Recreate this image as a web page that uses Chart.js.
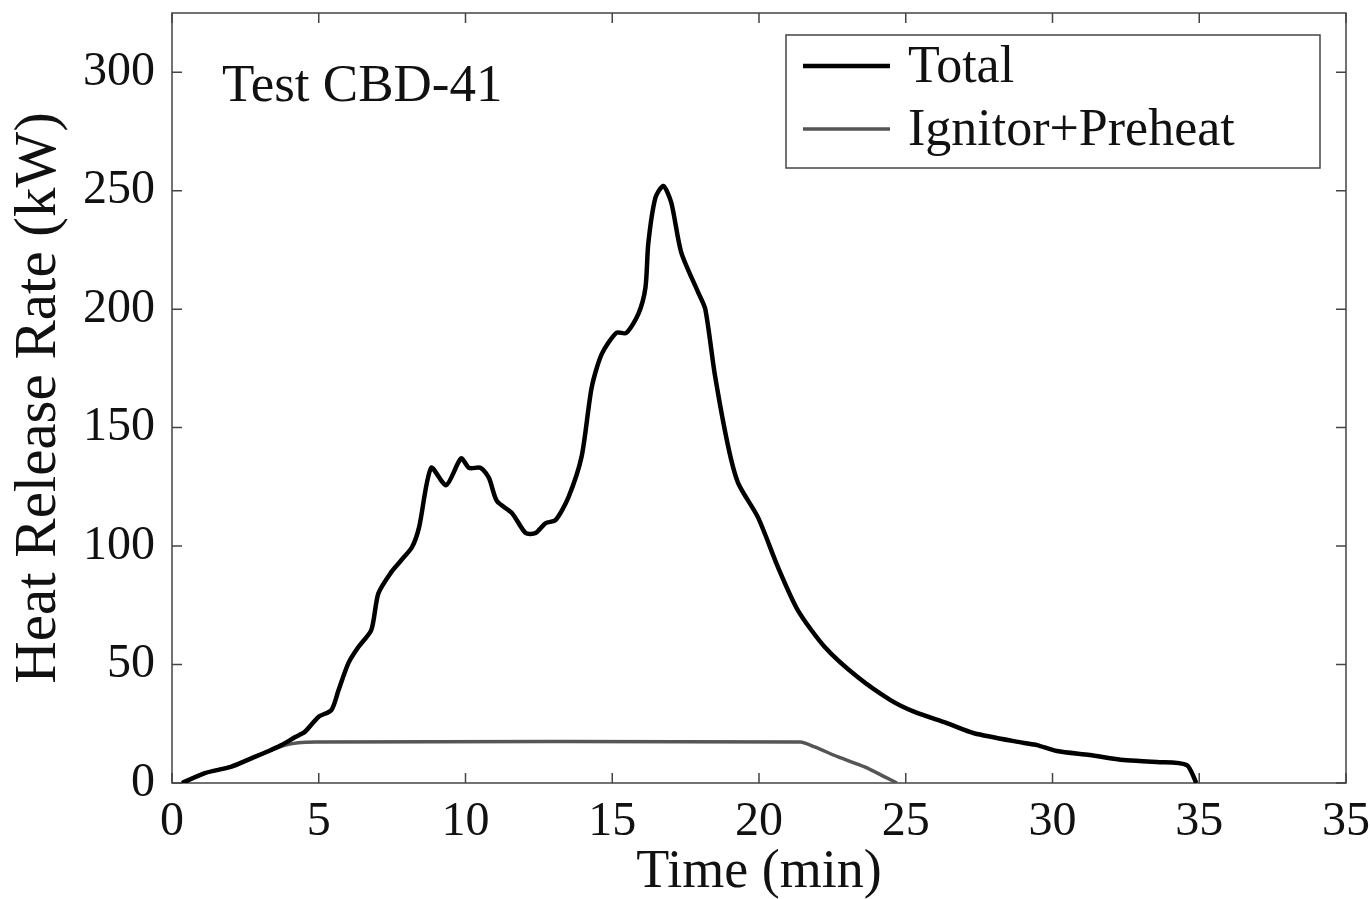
<!DOCTYPE html>
<html>
<head>
<meta charset="utf-8">
<script src="https://cdn.jsdelivr.net/npm/chart.js@4.4.1/dist/chart.umd.min.js"></script>
<style>
  html, body { margin: 0; padding: 0; background: #fff; }
  #wrap { width: 1370px; height: 899px; position: relative; }
</style>
</head>
<body>
<div id="wrap"><canvas id="chart"></canvas></div>
<script>
// values (time in min, HRR in kW)
const totalTime = [0.34, 1.12, 2.0, 2.72, 3.3, 3.73, 4.2, 4.52, 4.99, 5.43, 5.67, 6.01, 6.35, 6.79, 7.03, 7.47, 7.81,
  8.18, 8.42, 8.83, 9.34, 9.85, 10.12, 10.52, 10.8, 11.07, 11.58, 12.05, 12.39, 12.73, 13.07, 13.51, 13.96,
  14.3, 14.64, 15.14, 15.48, 15.89, 16.13, 16.23, 16.47, 16.74, 17.01, 17.35, 17.93, 18.17, 18.5, 18.95,
  19.29, 19.97, 20.65, 21.32, 22.24, 23.36, 24.48, 25.3, 26.4, 27.33, 29.03, 29.47, 30.15, 31.27, 32.43,
  33.55, 34.57, 34.9]
const totalHrr = [0, 4.2, 6.8, 10.5, 13.5, 16, 19.4, 21.5, 27.9, 30.8, 39, 50.6, 57.4, 64.6, 80, 89, 94,
  99.6, 108, 133, 125.7, 137, 133, 133, 128.7, 119, 114, 105.5, 105.5, 109.7, 111, 120.7, 138,
  167, 181, 190, 190, 198, 209, 228, 247, 252, 245, 224, 207, 200, 172, 142,
  126.6, 112, 91, 73, 57.4, 44.7, 35, 30, 25.3, 21, 16.9, 16, 13.5, 11.8, 9.7,
  8.9, 7.6, 0]

const ignitorTime = [0.34, 1.12, 2.0, 2.72, 3.3, 3.8, 4.3, 4.9, 21.4, 21.9, 22.7, 23.6, 24.3, 24.7]
const ignitorHrr = [0, 4.2, 6.8, 10.5, 13.5, 15.8, 17.0, 17.3, 17.3, 15.2, 11, 6.8, 2.5, 0]

const xTickLabels = ['0', '5', '10', '15', '20', '25', '30', '35', '35']
const yTickLabels = ['0', '50', '100', '150', '200', '250', '300']
const seriesNames = ['Total', 'Ignitor+Preheat']
const annotation = 'Test CBD-41'

const FONT = "'Liberation Serif', 'Times New Roman', serif"

const toPoints = (xs, ys) => xs.map((x, i) => ({ x, y: ys[i] }))

// box around the plot with inward tick marks on all four sides
const framePlugin = {
  id: 'frame',
  beforeDatasetsDraw(chart) {
    const { ctx, chartArea: a, scales } = chart
    ctx.save()
    ctx.strokeStyle = '#444'
    ctx.lineWidth = 1.5
    ctx.strokeRect(a.left, a.top, a.right - a.left, a.bottom - a.top)
    const len = 10
    ctx.beginPath()
    scales.x.ticks.forEach(t => {
      const px = scales.x.getPixelForValue(t.value)
      ctx.moveTo(px, a.bottom); ctx.lineTo(px, a.bottom - len)
      ctx.moveTo(px, a.top); ctx.lineTo(px, a.top + len)
    })
    scales.y.ticks.forEach(t => {
      const py = scales.y.getPixelForValue(t.value)
      ctx.moveTo(a.left, py); ctx.lineTo(a.left + len, py)
      ctx.moveTo(a.right, py); ctx.lineTo(a.right - len, py)
    })
    ctx.stroke()
    ctx.restore()
  },
  afterDraw(chart) {
    const { ctx } = chart
    ctx.save()
    // test name
    ctx.fillStyle = '#111'
    ctx.font = `53px ${FONT}`
    ctx.textBaseline = 'alphabetic'
    ctx.textAlign = 'left'
    ctx.fillText(annotation, 222, 101)

    // legend box
    ctx.fillStyle = '#fff'
    ctx.fillRect(786, 35, 534, 133)
    ctx.strokeStyle = '#444'
    ctx.lineWidth = 1.5
    ctx.strokeRect(786, 35, 534, 133)
    const rows = [66, 129]
    chart.data.datasets.forEach((ds, i) => {
      ctx.strokeStyle = ds.borderColor
      ctx.lineWidth = ds.borderWidth
      ctx.beginPath()
      ctx.moveTo(803, rows[i]); ctx.lineTo(890, rows[i])
      ctx.stroke()
      ctx.fillStyle = '#111'
      ctx.font = `52px ${FONT}`
      ctx.textBaseline = 'middle'
      ctx.fillText(ds.label, 908, rows[i] + 2)
    })
    ctx.restore()
  }
}

const chart = new Chart(document.getElementById('chart').getContext('2d'), {
  type: 'line',
  data: {
    datasets: [
      {
        label: seriesNames[0],
        data: toPoints(totalTime, totalHrr),
        borderColor: '#000',
        borderWidth: 4.5,
        pointRadius: 0,
        tension: 0.25,
        fill: false
      },
      {
        label: seriesNames[1],
        data: toPoints(ignitorTime, ignitorHrr),
        borderColor: '#555',
        borderWidth: 3.5,
        pointRadius: 0,
        tension: 0.25,
        fill: false
      }
    ]
  },
  options: {
    responsive: true,
    maintainAspectRatio: false,
    animation: false,
    layout: { padding: { top: 13, right: 24, left: 0, bottom: 0 } },
    plugins: {
      legend: { display: false },
      tooltip: { enabled: false }
    },
    scales: {
      x: {
        type: 'linear',
        min: 0,
        max: 40,
        afterFit: s => {
          s.height = 116
          s.paddingLeft = 0
          s.paddingRight = 0
        },
        grid: { display: false, drawTicks: false },
        border: { display: false },
        ticks: {
          stepSize: 5,
          padding: 11,
          color: '#111',
          font: { family: FONT, size: 48 },
          maxRotation: 0,
          callback: (v, i) => xTickLabels[i]
        },
        title: {
          display: true,
          text: 'Time (min)',
          color: '#111',
          font: { family: FONT, size: 54 },
          padding: { top: 0, bottom: -6 }
        }
      },
      y: {
        min: 0,
        max: 325,
        afterFit: s => {
          s.width = 172
          s.paddingTop = 0
          s.paddingBottom = 0
        },
        grid: { display: false, drawTicks: false },
        border: { display: false },
        ticks: {
          stepSize: 50,
          includeBounds: false,
          padding: 17,
          color: '#111',
          font: { family: FONT, size: 48 },
          callback: (v, i) => yTickLabels[i]
        },
        title: {
          display: true,
          text: 'Heat Release Rate (kW)',
          color: '#111',
          font: { family: FONT, size: 59 },
          padding: { top: 4, bottom: 0 }
        }
      }
    }
  },
  plugins: [framePlugin]
})
</script>
</body>
</html>
